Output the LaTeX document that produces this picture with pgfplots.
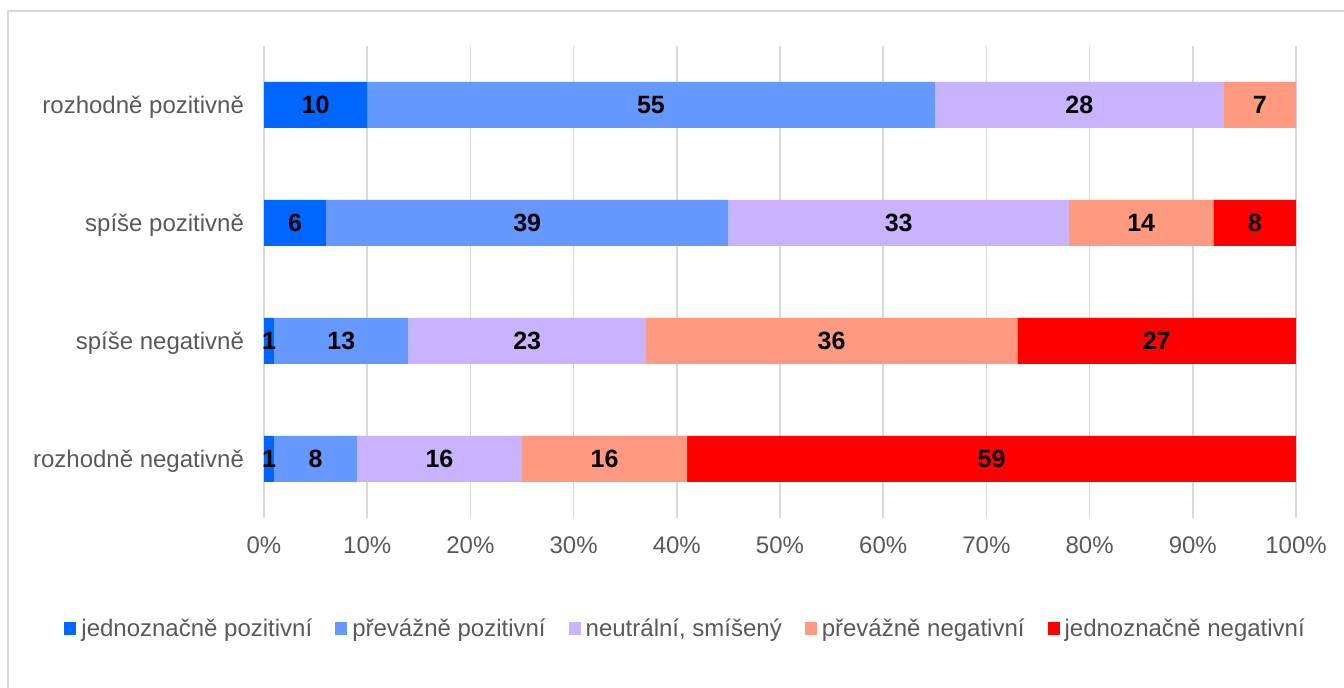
\documentclass[border=0pt]{standalone}
\usepackage{fontspec}
\setmainfont{Liberation Sans}
\usepackage{pgfplots}
\usepackage{pgfplotstable}
\pgfplotsset{compat=1.18}
\definecolor{c1}{HTML}{0066FF}
\definecolor{c2}{HTML}{6699FF}
\definecolor{c3}{HTML}{C9B3FF}
\definecolor{c4}{HTML}{FF9980}
\definecolor{c5}{HTML}{FF0000}
\definecolor{txt}{HTML}{595959}
\definecolor{grd}{HTML}{D9D9D9}
\pgfplotstableread{
y a b c d e
0 10 55 28 7 0
1 6 39 33 14 8
2 1 13 23 36 27
3 1 8 16 16 59
}\data
\begin{document}
\begin{tikzpicture}
\useasboundingbox (0,0) rectangle (672pt,344pt);
\draw[grd, line width=0.75pt] (4pt,-5pt) -- (4pt,338.5pt) -- (680pt,338.5pt);
\begin{axis}[
  at={(132pt,85pt)}, anchor=south west,
  width=516pt, height=236pt, scale only axis,
  xbar stacked, bar width=23pt,
  xmin=0, xmax=100, ymin=-0.5, ymax=3.5, y dir=reverse,
  enlargelimits=false, clip=false,
  axis line style={draw=none},
  major tick length=0pt,
  xmajorgrids, grid style={grd, line width=0.75pt},
  xtick={0,10,...,100},
  xticklabels={0\%,10\%,20\%,30\%,40\%,50\%,60\%,70\%,80\%,90\%,100\%},
  ytick={0,1,2,3},
  yticklabels={rozhodně pozitivně, spíše pozitivně, spíše negativně, rozhodně negativně},
  every tick label/.append style={font=\fontsize{12}{14}\selectfont, text=txt},
  xticklabel style={yshift=-6pt},
  yticklabel style={xshift=-6.5pt, yshift=-1pt},
  nodes near coords={\pgfmathtruncatemacro\vv{\val}\ifnum\vv>0 \vv\fi},
  every node near coord/.append style={anchor=center, font=\fontsize{12.5}{14}\selectfont\bfseries, text=black},
  legend columns=-1,
  legend style={at={(0.41,-0.235)}, anchor=center, draw=none, fill=none,
    font=\fontsize{12}{14}\selectfont, text=txt,
    nodes={inner xsep=2.5pt},
    /tikz/every even column/.append style={column sep=9pt}},
  legend image code/.code={\fill[#1] (0pt,-3.25pt) rectangle (6pt,3.25pt);},
]
\addplot[fill=c1, draw=none, visualization depends on={\thisrow{a} \as \val}] table[x=a,y=y]{\data};
\addplot[fill=c2, draw=none, visualization depends on={\thisrow{b} \as \val}] table[x=b,y=y]{\data};
\addplot[fill=c3, draw=none, visualization depends on={\thisrow{c} \as \val}] table[x=c,y=y]{\data};
\addplot[fill=c4, draw=none, visualization depends on={\thisrow{d} \as \val}] table[x=d,y=y]{\data};
\addplot[fill=c5, draw=none, visualization depends on={\thisrow{e} \as \val}] table[x=e,y=y]{\data};
\legend{jednoznačně pozitivní, převážně pozitivní, {neutrální, smíšený}, převážně negativní, jednoznačně negativní}
\end{axis}
\end{tikzpicture}
\end{document}
